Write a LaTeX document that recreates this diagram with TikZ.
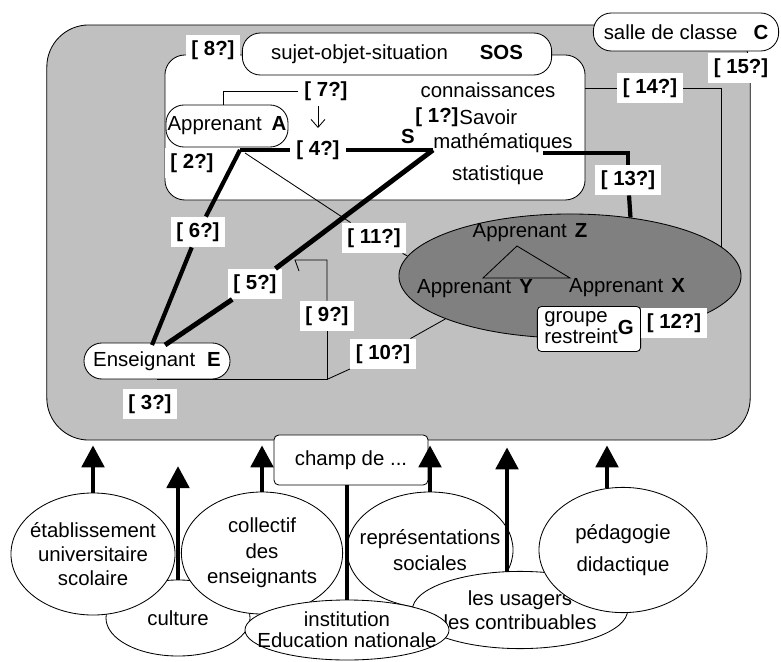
\documentclass[tikz,border=0pt]{standalone}
\usepackage{fontspec}
\setmainfont{Liberation Sans}
\usetikzlibrary{shapes.geometric, arrows.meta}
\definecolor{roomgray}{HTML}{C0C0C0}
\definecolor{groupgray}{HTML}{808080}

\begin{document}
\begin{tikzpicture}[
  x=0.025cm, y=-0.025cm, line width=0.6pt,
  font=\fontsize{14.5}{16.5}\selectfont,
  pill/.style={rectangle, draw, fill=white, rounded corners=0.45cm, inner sep=1pt},
  tag/.style={rectangle, fill=white, font=\fontsize{14.5}{16.5}\selectfont\bfseries, inner xsep=0.14cm, inner ysep=0pt, minimum height=0.75cm},
  bubble/.style={ellipse, draw, fill=white, align=center, inner xsep=-0.6cm, inner ysep=0pt, font=\fontsize{14.5}{17}\selectfont},
  link/.style={line width=3pt},
  arrow/.style={-{Triangle[width=0.55cm, length=0.55cm]}, line width=3.5pt}
]
\useasboundingbox (0,0) rectangle (781,662);

% Classroom
\node[rectangle, draw, fill=roomgray, rounded corners=1.05cm, minimum width=17.58cm, minimum height=10.375cm] (room) at (398.5,232.5) {};

% Subject-object-situation area
\node[rectangle, draw, fill=white, rounded corners=0.5cm, minimum width=10.5cm, minimum height=3.625cm] (sosarea) at (375,127.5) {};

% Small group
\node[ellipse, draw, fill=groupgray, minimum width=8.55cm, minimum height=3.1cm] (grp) at (570,276) {};

% Field box
\node[rectangle, draw, fill=white, rounded corners=0.12cm, minimum width=3.85cm, minimum height=1.25cm] (champ) at (351,460) {champ de ...};

% Actors
\node[pill, minimum width=4.63cm, minimum height=0.95cm] (salle) at (686,32) {salle de classe\hspace{0.4cm}\textbf{C}};
\node[pill, minimum width=7.73cm, minimum height=1.05cm] (sos) at (397,54) {sujet-objet-situation\hspace{0.8cm}\textbf{SOS}};
\node[pill, minimum width=3.05cm, minimum height=1.05cm] (A) at (227,126) {Apprenant\hspace{0.25cm}\textbf{A}};
\node[pill, minimum width=3.65cm, minimum height=0.9cm] (E) at (157,361) {Enseignant\hspace{0.3cm}\textbf{E}};
\node[rectangle, draw, fill=white, rounded corners=0.1cm, minimum width=2.58cm, minimum height=1.1cm, inner sep=1pt, font=\fontsize{14.5}{15}\selectfont] (G) at (589,329) {
  \begin{tabular}{@{}l@{}}
    groupe \\
    restreint
  \end{tabular}\textbf{G}
};

% Learners of the group
\node (Z) at (530,233) {Apprenant\hspace{0.2cm}\textbf{Z}};
\node (Y) at (475,289) {Apprenant\hspace{0.2cm}\textbf{Y}};
\node (X) at (627,288) {Apprenant\hspace{0.2cm}\textbf{X}};

% Question tags
\node[tag] (l1) at (437,117) {[ 1?]};
\node[tag] (l2) at (192,163) {[ 2?]};
\node[tag] (l3) at (150,404) {[ 3?]};
\node[tag] (l4) at (318,150) {[ 4?]};
\node[tag] (l5) at (255,284) {[ 5?]};
\node[tag] (l6) at (198,232) {[ 6?]};
\node[tag] (l7) at (326,91) {[ 7?]};
\node[tag] (l8) at (213,50) {[ 8?]};
\node[tag] (l9) at (327,316) {[ 9?]};
\node[tag] (l10) at (383,354) {[ 10?]};
\node[tag] (l11) at (374,238) {[ 11?]};
\node[tag] (l12) at (674,323) {[ 12?]};
\node[tag] (l13) at (628,180) {[ 13?]};
\node[tag] (l14) at (650,88) {[ 14?]};
\node[tag] (l15) at (741,68) {[ 15?]};

% Knowledge
\node (conn) at (488,90) {connaissances};
\node[anchor=west, inner sep=0pt] (sav) at (459,117) {Savoir};
\node (math) at (503,143) {mathématiques};
\node (stat) at (498,175) {statistique};
\node[font=\fontsize{14.5}{16.5}\selectfont\bfseries] (Slet) at (408,136) {S};

% Outside influences
\node[bubble, minimum width=3.6cm, minimum height=1.9cm] (cult) at (178,618) {culture};
\node[bubble, minimum width=4.1cm, minimum height=3.05cm] (etab) at (93,554) {établissement\\universitaire\\scolaire};
\node[bubble, minimum width=4.03cm, minimum height=3.05cm] (coll) at (262,553) {collectif\\[1pt]des\\[1pt]enseignants};
\node[bubble, minimum width=4.15cm, minimum height=2.9cm] (repr) at (430,550) {représentations\\[2pt]sociales};
\node[bubble, minimum width=5.38cm, minimum height=1.93cm] (usag) at (520,610) {les usagers\\les contribuables};
\node[bubble, minimum width=5.1cm, minimum height=1.5cm] (inst) at (347,630) {institution\\[-2pt]Education nationale};
\node[bubble, minimum width=4.2cm, minimum height=3.13cm] (ped) at (623,550) {pédagogie\\[6pt]didactique};

% Free ends
\coordinate (a1) at (240,150);
\coordinate (a2) at (245,153);
\coordinate (s) at (433,150);
\coordinate (m1) at (543,153);
\coordinate (e5) at (165,345);
\coordinate (e6) at (152,345);
\coordinate (d7) at (318,128);
\coordinate (t9) at (295,260);
\coordinate (t9b) at (299,271);
\coordinate (tz) at (517,246);
\coordinate (ty) at (483,278);
\coordinate (tx) at (570,278);
\coordinate (c1) at (178,466);
\coordinate (u1) at (507,572);
\coordinate (p1) at (607,488);

% Didactic triangle
\draw[link] (a1) -- (l4) -- (s);
\draw[link] (a1) -- (l6) -- (e6);
\draw[link, line width=3.5pt] (s) -- (l5) -- (e5);
\draw[link] (m1) -| (l13);
\draw[link] (l13) -- (grp.44);

% Thin links
\draw ([xshift=-0.1cm]A.north) |- (l7);
\draw[-{Straight Barb[length=0.2cm, width=0.35cm]}] (l7.south -| d7) -- (d7);
\draw (a2) -- (l11) -- (grp.173);
\draw (E.south) -| (l9);
\draw (l9) |- (t9) -- (t9b);
\draw (E.south -| l9) -- (l10) -- (grp.199);
\draw (sosarea.east |- l14) -- (l14) -| (grp.11);
\draw (tz) -- (ty) -- (tx) -- cycle;

% Arrows to the classroom
\draw[arrow, shorten >=0.12cm] (etab.north) -- (etab.north |- room.south);
\draw[arrow] (cult.north) -- (cult.north |- c1);
\draw[arrow, shorten >=0.12cm] (coll.north) -- (coll.north |- room.south);
\draw[arrow, shorten >=0.12cm] (repr.north) -- (repr.north |- room.south);
\draw[arrow, shorten >=0.17cm] (u1) -- (u1 |- room.south);
\draw[arrow, shorten >=0.12cm] (p1) -- (p1 |- room.south);
\draw[link, line width=3.5pt] (champ.south -| inst.north) -- (inst.north);

\end{tikzpicture}
\end{document}
